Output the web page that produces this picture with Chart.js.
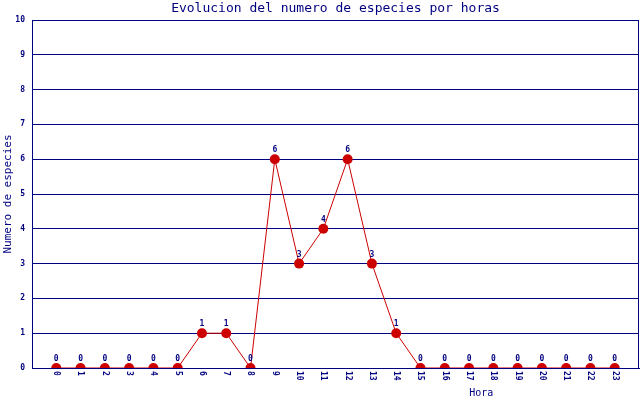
<!DOCTYPE html>
<html>
<head>
<meta charset="utf-8">
<script src="https://cdn.jsdelivr.net/npm/chart.js@4"></script>
<style>
html,body{margin:0;padding:0;background:#fff;}
#wrap{width:640px;height:400px;position:relative;}
</style>
</head>
<body>
<div id="wrap"><canvas id="c" width="640" height="400"></canvas></div>
<script>
const chartTitle = "Evolucion del numero de especies por horas";
const xTitle = "Hora";
const yTitle = "Numero de especies";
const hours = [0,1,2,3,4,5,6,7,8,9,10,11,12,13,14,15,16,17,18,19,20,21,22,23];
const hourLabels = ["0","1","2","3","4","5","6","7","8","9","10","11","12","13","14","15","16","17","18","19","20","21","22","23"];
const species = [0,0,0,0,0,0,1,1,0,6,3,4,6,3,1,0,0,0,0,0,0,0,0,0];

const NAVY = '#000080';
const RED = '#cc0000';
const MONO = '"DejaVu Sans Mono", "Liberation Mono", monospace';

const overlay = {
  id: 'overlay',
  afterDraw(chart) {
    const ctx = chart.ctx;
    const a = chart.chartArea;
    const xs = chart.scales.x;
    const meta = chart.getDatasetMeta(0);
    ctx.save();
    ctx.strokeStyle = NAVY;
    ctx.lineWidth = 1;
    ctx.beginPath();
    ctx.moveTo(a.right - 0.5, a.top);
    ctx.lineTo(a.right - 0.5, a.bottom);
    ctx.stroke();
    ctx.fillStyle = NAVY;
    ctx.font = '13px ' + MONO;
    ctx.textAlign = 'center';
    ctx.textBaseline = 'middle';
    ctx.fillText(chartTitle, (a.left + a.right) / 2, 9);
    ctx.font = '10px ' + MONO;
    ctx.fillText(xTitle, a.left + (a.right - a.left) * 0.74, 393);
    ctx.save();
    ctx.translate(8, (a.top + a.bottom) / 2);
    ctx.rotate(-Math.PI / 2);
    ctx.font = '11px ' + MONO;
    ctx.fillText(yTitle, 0, 0);
    ctx.restore();
    ctx.font = 'bold 8px ' + MONO;
    hours.forEach((h, i) => {
      const px = xs.getPixelForValue(h);
      ctx.save();
      ctx.translate(px, a.bottom + 3);
      ctx.rotate(Math.PI / 2);
      ctx.textAlign = 'left';
      ctx.textBaseline = 'middle';
      ctx.fillText(hourLabels[i], 0, 0);
      ctx.restore();
    });
    ctx.font = 'bold 8px ' + MONO;
    ctx.textAlign = 'center';
    ctx.textBaseline = 'bottom';
    meta.data.forEach((pt, i) => {
      ctx.fillText(String(species[i]), pt.x, pt.y - 5);
    });
    ctx.restore();
  }
};

new Chart(document.getElementById('c'), {
  type: 'line',
  data: {
    datasets: [{
      data: hours.map((h, i) => ({x: h, y: species[i]})),
      borderColor: RED,
      borderWidth: 1,
      backgroundColor: RED,
      pointBackgroundColor: RED,
      pointBorderColor: RED,
      pointBorderWidth: 0,
      pointRadius: 5,
      tension: 0,
      fill: false
    }]
  },
  options: {
    responsive: false,
    animation: false,
    devicePixelRatio: 1,
    layout: {autoPadding: false, padding: {top: 20, right: 1, left: 0, bottom: 0}},
    plugins: {legend: {display: false}, tooltip: {enabled: false}, title: {display: false}},
    scales: {
      x: {
        type: 'linear', min: -1, max: 24,
        grid: {display: false},
        border: {display: true, color: NAVY, width: 1},
        ticks: {display: false},
        afterFit(s) { s.height = 32; }
      },
      y: {
        min: 0, max: 10,
        grid: {color: NAVY, lineWidth: 1, drawTicks: false},
        border: {display: true, color: NAVY, width: 1},
        ticks: {stepSize: 1, color: NAVY, padding: 7, font: {family: MONO, size: 8, weight: 'bold'}},
        afterFit(s) { s.width = 32; }
      }
    }
  },
  plugins: [overlay]
});
</script>
</body>
</html>
